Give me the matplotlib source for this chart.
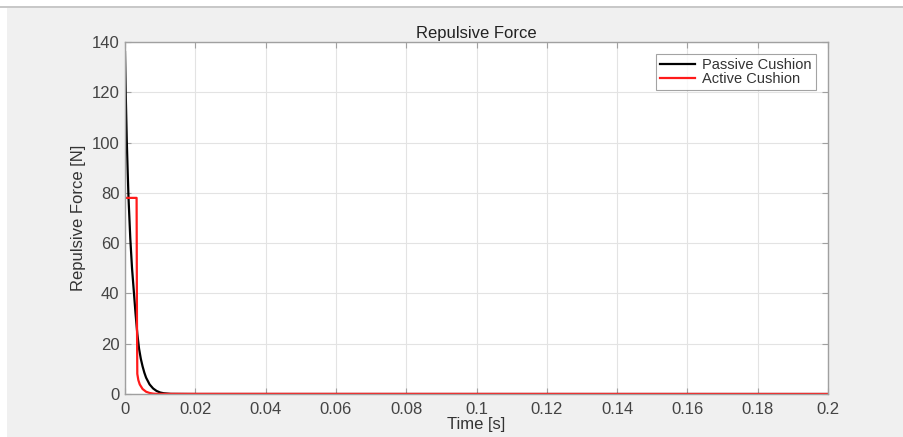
import matplotlib
matplotlib.use("Agg")
import matplotlib.pyplot as plt
import matplotlib.patches as mpatches

plt.rcParams["font.family"] = ["Liberation Sans", "DejaVu Sans"]

# Passive cushion: force
passive_t = [0, 0.00025, 0.0005, 0.00075, 0.001, 0.0015, 0.002, 0.0025,
             0.003, 0.0035, 0.004, 0.0045, 0.005, 0.0055, 0.006, 0.007,
             0.008, 0.009, 0.010, 0.011, 0.013, 0.02, 0.2]
passive_f = [136, 117, 101, 89, 78, 62, 50, 41,
             32, 24, 18, 14, 11, 8.5, 6.5, 3.8,
             2.2, 1.2, 0.6, 0.3, 0.05, 0, 0]

# Active cushion: flat, sharp drop, then short tail
active_t = [0, 0.0033, 0.0034, 0.0035, 0.0038, 0.0042, 0.005, 0.006,
            0.007, 0.008, 0.009, 0.2]
active_f = [78, 78, 30, 8, 5.5, 3.8, 2.0, 0.9,
            0.4, 0.15, 0.05, 0]

x_ticks = [0, 0.02, 0.04, 0.06, 0.08, 0.1, 0.12, 0.14, 0.16, 0.18, 0.2]
x_labels = ["0", "0.02", "0.04", "0.06", "0.08", "0.1", "0.12", "0.14",
            "0.16", "0.18", "0.2"]
y_ticks = [0, 20, 40, 60, 80, 100, 120, 140]

fig = plt.figure(figsize=(9.04, 4.37), dpi=100, facecolor="#f0f0f0")

# white strips at top and left edge of the screenshot
fig.patches.append(mpatches.Rectangle((0, 1 - 7 / 437), 1, 7 / 437,
                                      transform=fig.transFigure,
                                      facecolor="white", edgecolor="none"))
fig.patches.append(mpatches.Rectangle((0, 1 - 8 / 437), 1, 1.5 / 437,
                                      transform=fig.transFigure,
                                      facecolor="#c8c8c8", edgecolor="none"))
fig.patches.append(mpatches.Rectangle((0, 0), 7 / 904, 1 - 8 / 437,
                                      transform=fig.transFigure,
                                      facecolor="white", edgecolor="none"))

ax = fig.add_axes([125 / 904, 43 / 437, 703 / 904, 352 / 437])
ax.set_facecolor("white")

ax.plot(passive_t, passive_f, color="black", lw=1.6, label="Passive Cushion")
ax.plot(active_t, active_f, color="#ff1a1a", lw=1.6, label="Active Cushion")

ax.set_xlim(0, 0.2)
ax.set_ylim(0, 140)
ax.set_xticks(x_ticks)
ax.set_xticklabels(x_labels)
ax.set_yticks(y_ticks)

ax.grid(True, color="#e3e3e3", lw=0.8)
ax.set_axisbelow(True)
for s in ax.spines.values():
    s.set_color("#a0a0a0")
    s.set_linewidth(1.0)
ax.tick_params(direction="in", top=True, right=True, length=4,
               color="#a0a0a0", labelsize=12, labelcolor="#444444")
ax.tick_params(axis="x", pad=6)
ax.tick_params(axis="y", pad=4)

ax.set_xlabel("Time [s]", fontsize=12, color="#333333", labelpad=0)
ax.set_ylabel("Repulsive Force [N]", fontsize=12, color="#333333", labelpad=4)
ax.set_title("Repulsive Force", fontsize=12, color="#222222", pad=3)

leg = ax.legend(loc="upper right", fontsize=10.5, frameon=True, fancybox=False,
                edgecolor="#8c8c8c", handlelength=2.4, handletextpad=0.5,
                borderpad=0.3, labelspacing=0.0, borderaxespad=0.8)
leg.get_frame().set_linewidth(0.8)
for t in leg.get_texts():
    t.set_color("#333333")

fig.savefig("out.png", dpi=100, facecolor=fig.get_facecolor())
